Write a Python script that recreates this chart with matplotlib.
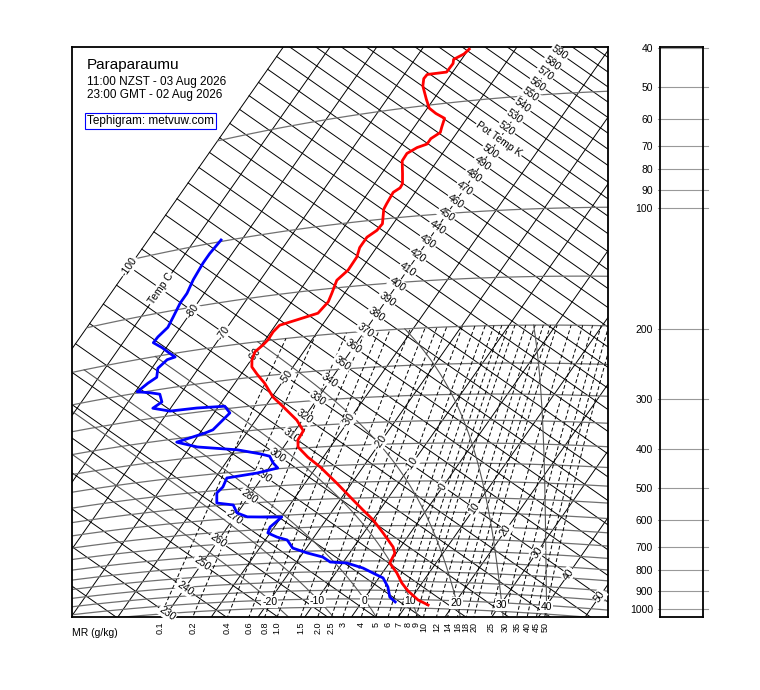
import numpy as np
import matplotlib.pyplot as plt
from matplotlib.transforms import blended_transform_factory

plt.rcParams['font.family'] = ['Liberation Sans', 'DejaVu Sans']

# sounding: temperature (red) and dew point (blue), deg C against pressure, hPa
temp_c = [-59.9, -60.3, -61.7, -61.2, -61.3, -65.1, -65.2, -64.3, -61.6, -59.6, -57.4, -54.8,
          -54.1, -53.6, -54.7, -54.7, -56.3, -57.6, -57.5, -55.5, -54.0, -53.9, -54.7, -54.4,
          -54.2, -52.3, -52.5, -53.6, -53.6, -52.8, -52.7, -53.6, -52.7, -52.2, -52.7, -56.2,
          -59.1, -59.5, -59.4, -59.7, -60.4, -59.8, -58.8, -56.6, -53.6, -49.8, -46.3, -41.2,
          -38.2, -38.0, -36.9, -33.3, -29.2, -23.2, -17.2, -13.6, -9.9, -5.8, -1.6, -0.3,
          0.1, 3.1, 5.7, 8.2, 11.7, 14.6]
temp_p = [36, 37, 38, 39, 41, 41, 42, 44, 48, 51, 53, 55, 58, 60, 62, 64, 65, 67, 70, 76, 81, 83,
          85, 91, 94, 103, 107, 111, 118, 125, 135, 143, 155, 163, 174, 179, 183, 190, 199, 205,
          213, 224, 234, 246, 262, 287, 306, 336, 360, 380, 397, 424, 452, 501, 556, 591, 628,
          679, 737, 764, 810, 858, 910, 952, 1002, 1030]
dew_c = [-84.4, -84.8, -84.8, -84.4, -83.7, -83.7, -83.1, -82.7, -83.4, -83.5, -80.9, -78.4,
         -76.7, -78.0, -78.7, -77.6, -78.6, -79.6, -76.7, -74.4, -72.8, -73.8, -69.7, -64.4,
         -58.7, -56.6, -57.1, -57.7, -58.9, -63.6, -58.5, -49.5, -44.0, -41.6, -39.9, -38.1,
         -41.8, -47.5, -47.0, -47.4, -45.9, -42.1, -40.1, -37.3, -32.4, -29.9, -30.9, -30.5,
         -27.9, -25.3, -22.9, -19.1, -15.1, -12.8, -9.1, -4.9, -2.0, 0.9, 3.3, 5.2, 7.1]
dew_p = [99, 107, 113, 125, 136, 144, 157, 167, 176, 182, 190, 199, 205, 207, 217, 230, 237, 248,
         253, 258, 272, 281, 291, 292, 295, 309, 323, 340, 345, 358, 375, 392, 407, 415, 433, 448,
         458, 465, 491, 508, 541, 552, 581, 598, 604, 606, 642, 665, 684, 698, 734, 758, 779, 803,
         809, 834, 859, 884, 932, 988, 1016]

theta_labels = list(range(230, 600, 10))
temp_labels = list(range(-100, 60, 10))
base_labels = [-20, -10, 0, 10, 20, 30, 40]
mr_values = [0.1, 0.2, 0.4, 0.6, 0.8, 1.0, 1.5, 2.0, 2.5, 3, 4, 5, 6, 7, 8, 9, 10,
             12, 14, 16, 18, 20, 25, 30, 35, 40, 45, 50]
mr_text = ['0.1', '0.2', '0.4', '0.6', '0.8', '1.0', '1.5', '2.0', '2.5', '3', '4', '5', '6', '7',
           '8', '9', '10', '12', '14', '16', '18', '20', '25', '30', '35', '40', '45', '50']
moist_tw = [-20, -10, 0, 10, 20, 30, 40]
isobars = list(range(50, 1100, 50))
panel_p = [40, 50, 60, 70, 80, 90, 100, 200, 300, 400, 500, 600, 700, 800, 900, 1000]

KAPPA = 0.286
ANG = np.radians(-35.0)   # rotation of the T / ln(theta) frame
LS = 189.7                # deg C per unit of ln(theta)
RD, CP, LV, EPS = 287.04, 1005.7, 2.501e6, 0.622


def teph_th(T, th):
    T = np.asarray(T, float)
    L = LS * np.log(np.asarray(th, float))
    return T*np.cos(ANG) - L*np.sin(ANG), T*np.sin(ANG) + L*np.cos(ANG)


def teph(T, p):
    T = np.asarray(T, float)
    th = (T + 273.15) * (1000.0 / np.asarray(p, float)) ** KAPPA
    return teph_th(T, th)


def lapse(tk, p):
    es = 6.112*np.exp(17.67*(tk-273.15)/(tk-29.65))
    rs = EPS*es/(p-es)
    return (RD*tk + LV*rs)/(CP + LV**2*rs*EPS/(RD*tk**2))


def moist(tw, p):
    t = tw + 273.15
    out = [t]
    for a, b in zip(p[:-1], p[1:]):
        d = np.log(b/a)
        k1 = lapse(t, a)
        k2 = lapse(t + 0.5*d*k1, np.sqrt(a*b))
        t = t + d*k2
        out.append(t)
    return np.array(out) - 273.15


def dewpoint(w, p):
    e = p*w/(EPS*1000.0 + w)
    g = np.log(e/6.112)
    return 243.5*g/(17.67 - g)


# window: T=-40 / theta=330 sits at (317.5, 398.6) px, 3.828 px per deg C
X0, Y0 = teph_th(-40.0, 330.0)
PX = 3.828

fig = plt.figure(figsize=(7.6, 6.9), dpi=100)
ax = fig.add_axes([72/760, 73/690, 536/760, 570/690])
ax.set_xlim(X0 - (317.5-72)/PX, X0 + (608-317.5)/PX)
ax.set_ylim(Y0 - (617-398.6)/PX, Y0 + (398.6-47)/PX)
ax.set_xticks([])
ax.set_yticks([])
for s in ax.spines.values():
    s.set_linewidth(1.3)

# isotherms, dry adiabats, isobars
thg = np.array([150.0, 900.0])
for t in range(-100, 60, 10):
    ax.plot(*teph_th([t, t], thg), color='black', lw=0.7, zorder=2)
tg = np.linspace(-100, 80, 60)
for th in range(200, 710, 10):
    ax.plot(*teph_th(tg, np.full_like(tg, th)), color='black', lw=0.7, zorder=2)
for p in isobars:
    ax.plot(*teph(tg, np.full_like(tg, p)), color='#707070', lw=0.9, zorder=2)

# mixing ratio lines
pm = np.linspace(1150, 200, 120)
bottom = ax.get_ylim()[0]
trans = blended_transform_factory(ax.transData, ax.transAxes)
for w, s in zip(mr_values, mr_text):
    x, y = teph(dewpoint(w, pm), pm)
    ax.plot(x, y, color='black', lw=0.7, ls=(0, (4, 2.5)), zorder=2)
    xb = np.interp(bottom, y, x)
    ax.text(xb, -0.008, s, transform=trans, rotation=90, ha='center', va='top', fontsize=6.5)
ax.text(0.0, -0.02, 'MR (g/kg)', transform=ax.transAxes, ha='left', va='top', fontsize=7.5)

# saturated adiabats
pu = np.linspace(1000, 200, 200)
pd_ = np.linspace(1000, 1150, 40)
for tw in moist_tw:
    tt = np.r_[moist(tw, pd_)[::-1], moist(tw, pu)[1:]]
    pp = np.r_[pd_[::-1], pu[1:]]
    keep = tt >= -100
    ax.plot(*teph(tt[keep], pp[keep]), color='#555555', lw=0.8, zorder=2)

box = dict(boxstyle='square,pad=0.1', fc='white', ec='none')
for th in theta_labels:
    s = 'Pot Temp K' if th == 510 else str(th)
    ax.text(*teph_th(-40, th), s, rotation=-35, ha='center', va='center', fontsize=7.5,
            bbox=box, zorder=3, rotation_mode='anchor')
for t in temp_labels:
    if t == -40:
        continue
    s = 'Temp C' if t == -90 else str(t)
    ax.text(*teph_th(t, 330), s, rotation=55, ha='center', va='center', fontsize=7.5,
            bbox=box, zorder=3, rotation_mode='anchor')
for t in base_labels:
    x, y = teph(t, 1000)
    ax.text(x, y - 0.5, str(t), ha='center', va='center', fontsize=7.5, bbox=box, zorder=3)

ax.plot(*teph(temp_c, temp_p), color='red', lw=2.0, zorder=5)
ax.plot(*teph(dew_c, dew_p), color='blue', lw=2.0, zorder=5)

ax.text(0.028, 0.961, 'Paraparaumu', transform=ax.transAxes, fontsize=11, va='baseline', zorder=6)
ax.text(0.028, 0.933, '11:00 NZST - 03 Aug 2026', transform=ax.transAxes, fontsize=8.5,
        va='baseline', zorder=6)
ax.text(0.028, 0.911, '23:00 GMT - 02 Aug 2026', transform=ax.transAxes, fontsize=8.5,
        va='baseline', zorder=6)
ax.text(0.028, 0.865, 'Tephigram: metvuw.com', transform=ax.transAxes, fontsize=8.5,
        va='baseline', zorder=6, bbox=dict(boxstyle='square,pad=0.2', fc='white', ec='blue', lw=0.8))

# pressure panel on the right (empty)
ax2 = fig.add_axes([660/760, 73/690, 43/760, 570/690])
ax2.set_yscale('log')
ax2.set_ylim(1047, 39.66)
ax2.set_xlim(0, 1)
ax2.set_xticks([])
ax2.yaxis.set_minor_locator(plt.NullLocator())
ax2.set_yticks(panel_p)
ax2.set_yticklabels([str(p) for p in panel_p])
ax2.tick_params(axis='y', length=0, pad=5, labelsize=7.5)
for s in ax2.spines.values():
    s.set_linewidth(1.3)
tr2 = blended_transform_factory(ax2.transAxes, ax2.transData)
for p in panel_p:
    ax2.plot([-0.05, 1.12], [p, p], transform=tr2, clip_on=False, color='#999999', lw=0.8, zorder=1)

fig.savefig('out.png', dpi=100)
